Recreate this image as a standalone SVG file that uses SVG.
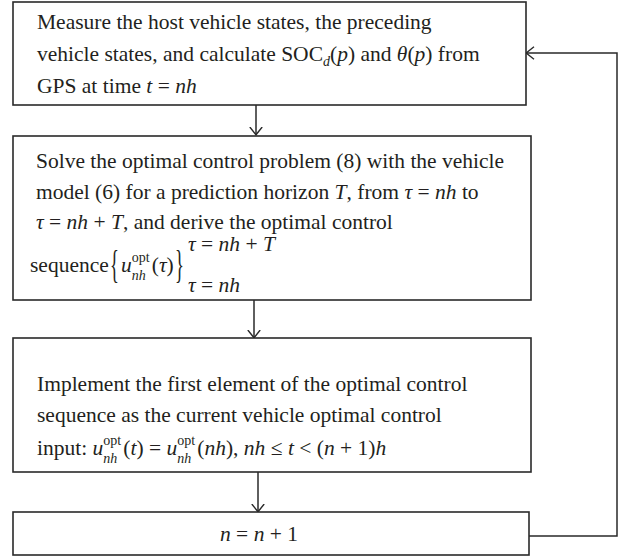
<svg xmlns="http://www.w3.org/2000/svg" width="620" height="558" viewBox="0 0 620 558">
<style>
.box{fill:#fff;stroke:#2a2a2a;stroke-width:1.6}
.t{font-family:"Liberation Serif","Times New Roman",serif;font-size:21.5px;fill:#231f20}
.i{font-style:italic}
.s{font-size:14px}
.br{font-size:30px}
.con{fill:none;stroke:#2a2a2a;stroke-width:1.5}
</style>
<defs>
<marker id="ah" markerUnits="userSpaceOnUse" markerWidth="9" markerHeight="14" viewBox="0 0 9 14" refX="8.5" refY="7" orient="auto">
<path d="M0.5,0.8 L8.3,7 L0.5,13.2" fill="none" stroke="#2a2a2a" stroke-width="1.4"/>
</marker>
</defs>
<rect width="620" height="558" fill="#fff"/>
<g id="connectors">
<path class="con" d="M256,105 L256,135" marker-end="url(#ah)"/>
<path class="con" d="M254,300 L254,338" marker-end="url(#ah)"/>
<path class="con" d="M258,472 L258,512" marker-end="url(#ah)"/>
<path class="con" d="M529,536 L617,536 L617,53 L526,53" marker-end="url(#ah)"/>
</g>
<g id="node1">
<rect class="box" x="13" y="2" width="513" height="103"/>
<text class="t" x="37" y="29">Measure the host vehicle states, the preceding</text>
<text class="t" x="37" y="61">vehicle states, and calculate SOC<tspan class="i s" dy="5">d</tspan><tspan dy="-5">(</tspan><tspan class="i">p</tspan>) and <tspan class="i">θ</tspan>(<tspan class="i">p</tspan>) from</text>
<text class="t" x="37" y="93">GPS at time <tspan class="i">t</tspan> = <tspan class="i">nh</tspan></text>
</g>
<g id="node2">
<rect class="box" x="13" y="136" width="518" height="164"/>
<text class="t" x="36" y="168">Solve the optimal control problem (8) with the vehicle</text>
<text class="t" x="36" y="199">model (6) for a prediction horizon <tspan class="i">T</tspan>, from <tspan class="i">τ</tspan> = <tspan class="i">nh</tspan> to</text>
<text class="t" x="36" y="229"><tspan class="i">τ</tspan> = <tspan class="i">nh</tspan> + <tspan class="i">T</tspan>, and derive the optimal control</text>
<text class="t" x="30" y="272">sequence</text>
<text class="t br" transform="translate(110,278) scale(0.62,1.35)">{</text>
<text class="t" x="121" y="272"><tspan class="i">u</tspan><tspan class="s" dy="-10">opt</tspan><tspan class="s i" dx="-17.9" dy="18">nh</tspan><tspan dx="6" dy="-8">(</tspan><tspan class="i">τ</tspan>)</text>
<text class="t br" transform="translate(175,278) scale(0.62,1.35)">}</text>
<text class="t" x="188" y="251"><tspan class="i">τ</tspan> = <tspan class="i">nh</tspan> + <tspan class="i">T</tspan></text>
<text class="t" x="188" y="292"><tspan class="i">τ</tspan> = <tspan class="i">nh</tspan></text>
</g>
<g id="node3">
<rect class="box" x="13" y="338" width="518" height="134"/>
<text class="t" x="37" y="391">Implement the first element of the optimal control</text>
<text class="t" x="37" y="422">sequence as the current vehicle optimal control</text>
<text class="t" x="37" y="455">input: <tspan class="i">u</tspan><tspan class="s" dy="-10">opt</tspan><tspan class="s i" dx="-17.9" dy="18">nh</tspan><tspan dx="6" dy="-8">(</tspan><tspan class="i">t</tspan>) = <tspan class="i">u</tspan><tspan class="s" dy="-10">opt</tspan><tspan class="s i" dx="-17.9" dy="18">nh</tspan><tspan dx="6" dy="-8">(</tspan><tspan class="i">nh</tspan>), <tspan class="i">nh</tspan> ≤ <tspan class="i">t</tspan> &lt; (<tspan class="i">n</tspan> + 1)<tspan class="i">h</tspan></text>
</g>
<g id="node4">
<rect class="box" x="13" y="512" width="516" height="43"/>
<text class="t" x="259" y="541" text-anchor="middle"><tspan class="i">n</tspan> = <tspan class="i">n</tspan> + 1</text>
</g>
</svg>
